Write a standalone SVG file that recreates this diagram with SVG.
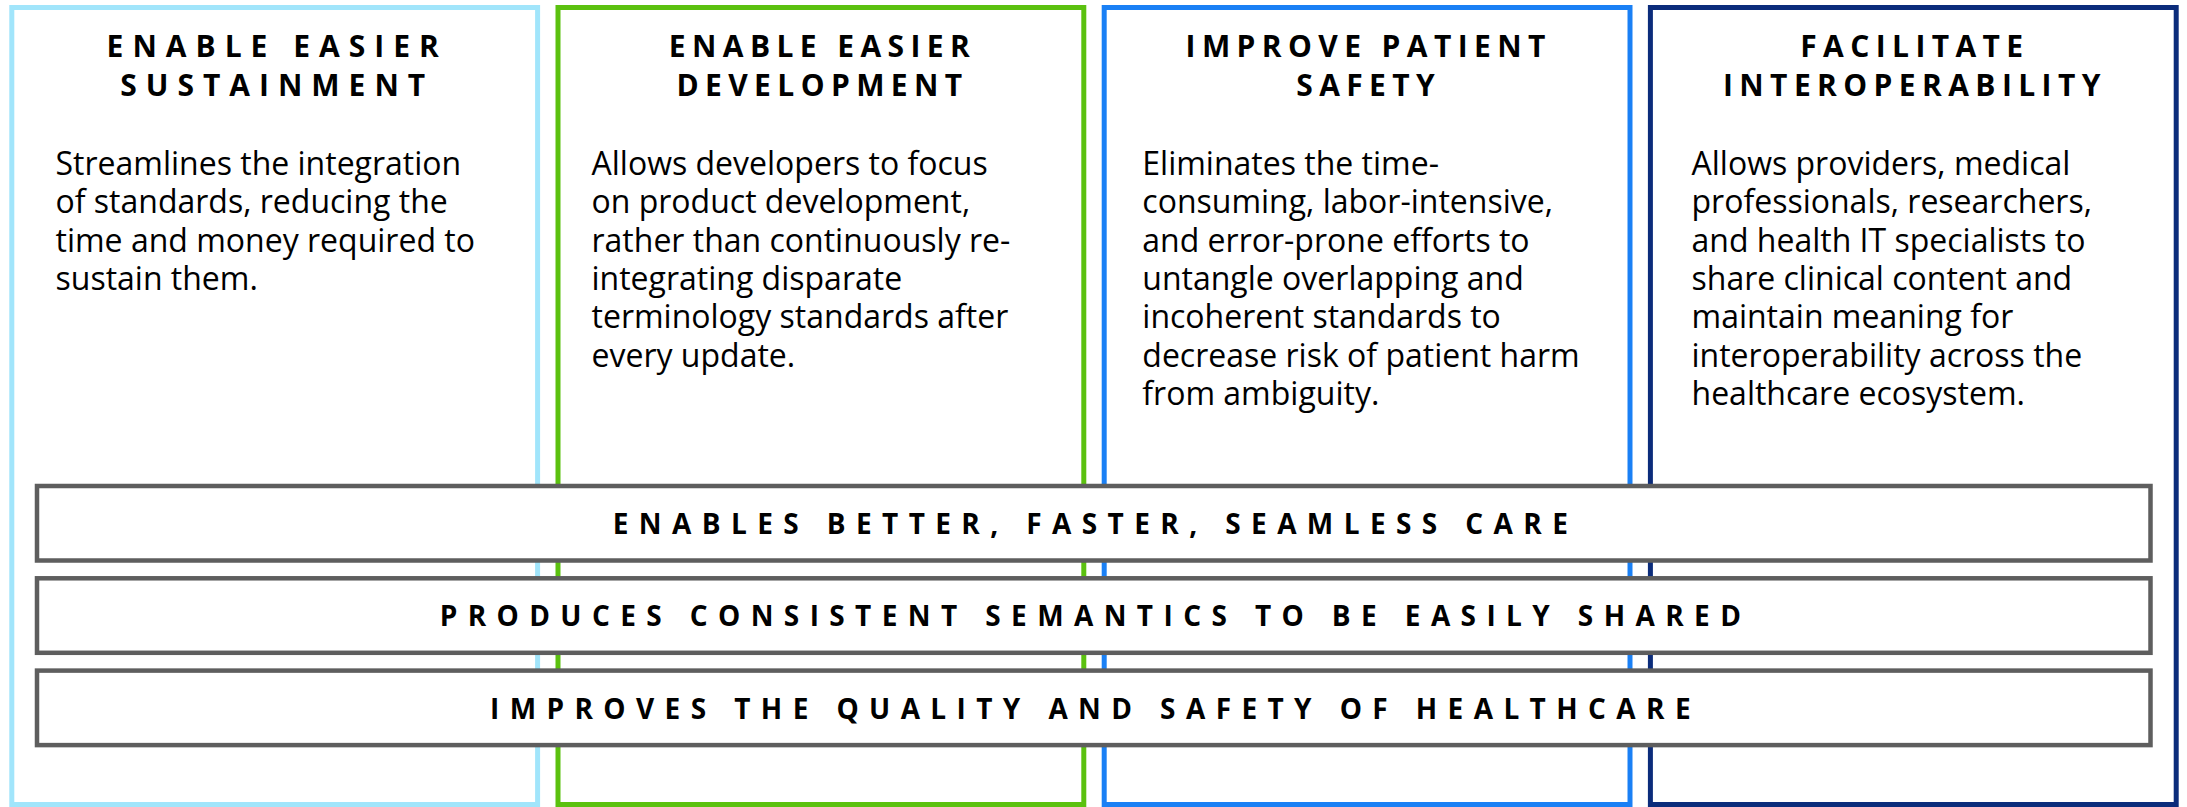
<svg xmlns="http://www.w3.org/2000/svg" width="2187" height="807" viewBox="0 0 2187 807">
<style>
.card{fill:#ffffff;stroke-width:5}
.title{font-family:"Open Sans","Noto Sans",sans-serif;font-weight:700;font-size:30px;letter-spacing:6.4px;fill:#000;text-anchor:middle}
.wide{letter-spacing:9px}
.body{font-family:"Open Sans","Noto Sans",sans-serif;font-weight:400;font-size:32px;fill:#000}
.band{fill:#ffffff;stroke:#5e5e5e;stroke-width:4.5}
.bandtext{font-family:"Open Sans","Noto Sans",sans-serif;font-weight:700;font-size:28px;letter-spacing:10.4px;fill:#000;text-anchor:middle}
</style>
<rect width="2187" height="807" fill="#ffffff"/>
<g id="card-sustainment">
<rect class="card" x="11.8" y="7.5" width="525.8" height="797" stroke="#a1e5fb"/>
<text class="title wide" x="277.2" y="56.5">ENABLE EASIER</text>
<text class="title wide" x="277.2" y="95.5">SUSTAINMENT</text>
<text class="body" x="55.5" y="174.7">Streamlines the integration</text>
<text class="body" x="55.5" y="213.1">of standards, reducing the</text>
<text class="body" x="55.5" y="251.5">time and money required to</text>
<text class="body" x="55.5" y="289.9">sustain them.</text>
</g>
<g id="card-development">
<rect class="card" x="558" y="7.5" width="525.8" height="797" stroke="#5bc10f"/>
<text class="title" x="822.5" y="56.5">ENABLE EASIER</text>
<text class="title" x="822.5" y="95.5">DEVELOPMENT</text>
<text class="body" x="591.5" y="174.7">Allows developers to focus</text>
<text class="body" x="591.5" y="213.1">on product development,</text>
<text class="body" x="591.5" y="251.5">rather than continuously re-</text>
<text class="body" x="591.5" y="289.9">integrating disparate</text>
<text class="body" x="591.5" y="328.3">terminology standards after</text>
<text class="body" x="591.5" y="366.7">every update.</text>
</g>
<g id="card-safety">
<rect class="card" x="1104.2" y="7.5" width="525.8" height="797" stroke="#1a80f5"/>
<text class="title" x="1368.7" y="56.5">IMPROVE PATIENT</text>
<text class="title" x="1368.7" y="95.5">SAFETY</text>
<text class="body" x="1142.3" y="174.7">Eliminates the time-</text>
<text class="body" x="1142.3" y="213.1">consuming, labor-intensive,</text>
<text class="body" x="1142.3" y="251.5">and error-prone efforts to</text>
<text class="body" x="1142.3" y="289.9">untangle overlapping and</text>
<text class="body" x="1142.3" y="328.3">incoherent standards to</text>
<text class="body" x="1142.3" y="366.7">decrease risk of patient harm</text>
<text class="body" x="1142.3" y="405.1">from ambiguity.</text>
</g>
<g id="card-interoperability">
<rect class="card" x="1650.4" y="7.5" width="525.8" height="797" stroke="#0b2c7b"/>
<text class="title" x="1914.9" y="56.5">FACILITATE</text>
<text class="title" x="1914.9" y="95.5">INTEROPERABILITY</text>
<text class="body" x="1691.5" y="174.7">Allows providers, medical</text>
<text class="body" x="1691.5" y="213.1">professionals, researchers,</text>
<text class="body" x="1691.5" y="251.5">and health IT specialists to</text>
<text class="body" x="1691.5" y="289.9">share clinical content and</text>
<text class="body" x="1691.5" y="328.3">maintain meaning for</text>
<text class="body" x="1691.5" y="366.7">interoperability across the</text>
<text class="body" x="1691.5" y="405.1">healthcare ecosystem.</text>
</g>
<g id="band-care">
<rect class="band" x="37" y="486" width="2113.5" height="74.5"/>
<text class="bandtext" x="1095.5" y="534">ENABLES BETTER, FASTER, SEAMLESS CARE</text>
</g>
<g id="band-semantics">
<rect class="band" x="37" y="578.3" width="2113.5" height="74.5"/>
<text class="bandtext" x="1095.5" y="626.3">PRODUCES CONSISTENT SEMANTICS TO BE EASILY SHARED</text>
</g>
<g id="band-quality">
<rect class="band" x="37" y="670.6" width="2113.5" height="74.5"/>
<text class="bandtext" x="1095.5" y="718.6">IMPROVES THE QUALITY AND SAFETY OF HEALTHCARE</text>
</g>
<g id="connectors"></g>
</svg>
